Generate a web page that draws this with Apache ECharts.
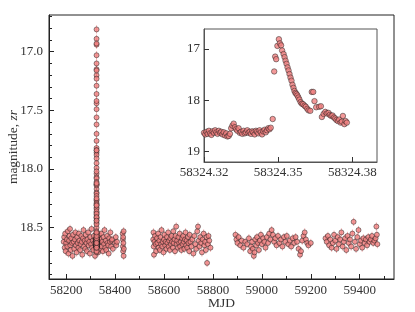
<!DOCTYPE html>
<html><head><meta charset="utf-8">
<script src="https://cdn.jsdelivr.net/npm/echarts@6/dist/echarts.min.js"></script>
<style>html,body{margin:0;padding:0;background:#fff}#c{width:415px;height:312px}</style>
</head><body><div id="c"></div>
<script>
// ---- main light curve: quiescent seasons [MJD, zr magnitude] ----
const season1 = [[58190,18.62],[58192,18.58],[58194,18.67],[58196,18.55],[58198,18.70],[58200,18.63],[58203,18.60],[58205,18.66],[58207,18.53],[58210,18.72],[58212,18.61],[58214,18.57],[58216,18.51],[58217,18.65],[58219,18.69],[58221,18.59],[58224,18.63],[58226,18.74],[58228,18.56],[58231,18.62],[58233,18.68],[58236,18.60],[58238,18.54],[58240,18.65],[58243,18.71],[58245,18.58],[58247,18.63],[58250,18.67],[58252,18.55],[58254,18.61],[58257,18.69],[58259,18.64],[58262,18.57],[58264,18.62],[58266,18.73],[58269,18.59],[58271,18.52],[58273,18.66],[58276,18.61],[58278,18.68],[58280,18.56],[58283,18.63],[58285,18.70],[58287,18.60],[58290,18.54],[58292,18.65],[58295,18.62],[58297,18.72],[58299,18.58],[58302,18.64],[58304,18.51],[58306,18.67],[58309,18.61],[58311,18.69],[58313,18.57],[58316,18.63],[58318,18.74],[58320,18.60],[58322,18.66],[58327,18.59],[58329,18.64],[58331,18.71],[58334,18.56],[58336,18.62],[58338,18.68],[58341,18.60],[58343,18.55],[58346,18.66],[58348,18.62],[58350,18.70],[58353,18.58],[58355,18.64],[58357,18.52],[58360,18.67],[58362,18.61],[58364,18.69],[58367,18.57],[58369,18.63],[58372,18.65],[58374,18.72],[58376,18.59],[58379,18.62],[58381,18.54],[58384,18.66],[58386,18.61],[58388,18.60],[58391,18.68],[58400,18.63],[58403,18.58],[58405,18.65],[58408,18.62],[58431,18.55],[58432,18.60],[58432,18.66],[58433,18.70],[58433,18.58],[58434,18.63],[58435,18.74],[58435,18.53],[58436,18.68]];
const season2 = [[58556,18.60],[58557,18.54],[58558,18.66],[58559,18.73],[58561,18.62],[58563,18.57],[58566,18.64],[58568,18.70],[58571,18.59],[58573,18.63],[58576,18.55],[58578,18.67],[58581,18.61],[58583,18.69],[58586,18.58],[58588,18.64],[58590,18.52],[58593,18.66],[58595,18.62],[58598,18.71],[58600,18.60],[58602,18.56],[58605,18.65],[58607,18.62],[58610,18.68],[58612,18.58],[58614,18.63],[58617,18.54],[58619,18.66],[58621,18.61],[58624,18.69],[58626,18.59],[58628,18.64],[58631,18.57],[58633,18.62],[58636,18.67],[58638,18.53],[58640,18.63],[58643,18.60],[58645,18.70],[58647,18.57],[58650,18.49],[58652,18.64],[58654,18.61],[58657,18.67],[58659,18.58],[58662,18.63],[58664,18.55],[58666,18.66],[58669,18.62],[58671,18.69],[58674,18.59],[58676,18.64],[58678,18.57],[58681,18.62],[58683,18.68],[58686,18.60],[58688,18.54],[58690,18.65],[58693,18.61],[58695,18.67],[58698,18.58],[58700,18.63],[58703,18.70],[58705,18.56],[58708,18.62],[58712,18.66],[58716,18.60],[58720,18.72],[58724,18.57],[58728,18.64],[58732,18.68],[58736,18.53],[58739,18.49],[58742,18.61],[58745,18.66],[58748,18.58],[58752,18.63],[58755,18.71],[58758,18.60],[58762,18.55],[58765,18.65],[58768,18.62],[58771,18.69],[58774,18.58],[58776,18.80],[58779,18.64],[58782,18.57],[58785,18.61],[58790,18.67]];
const season3 = [[58892,18.56],[58896,18.60],[58900,18.63],[58905,18.58],[58912,18.65],[58918,18.61],[58925,18.67],[58932,18.62],[58940,18.64],[58947,18.59],[58952,18.70],[58956,18.66],[58960,18.62],[58963,18.68],[58967,18.74],[58970,18.71],[58973,18.60],[58977,18.65],[58980,18.58],[58984,18.63],[58988,18.69],[58992,18.61],[58996,18.56],[59000,18.64],[59005,18.59],[59010,18.62],[59015,18.67],[59020,18.58],[59025,18.63],[59030,18.55],[59035,18.60],[59040,18.52],[59045,18.56],[59050,18.62],[59055,18.59],[59060,18.65],[59066,18.57],[59072,18.63],[59078,18.60],[59084,18.66],[59090,18.58],[59096,18.62],[59102,18.57],[59108,18.64],[59114,18.61],[59120,18.66],[59126,18.59],[59132,18.63],[59138,18.58],[59144,18.62],[59150,18.68],[59156,18.73],[59160,18.70],[59165,18.61],[59170,18.57],[59175,18.54],[59180,18.60],[59185,18.63],[59190,18.65],[59200,18.63]];
const season4 = [[59260,18.59],[59265,18.62],[59270,18.57],[59275,18.65],[59280,18.60],[59285,18.67],[59290,18.63],[59295,18.56],[59300,18.61],[59305,18.68],[59310,18.58],[59315,18.64],[59320,18.60],[59325,18.54],[59330,18.66],[59335,18.62],[59340,18.59],[59345,18.69],[59350,18.57],[59355,18.63],[59360,18.60],[59365,18.66],[59370,18.55],[59375,18.45],[59380,18.62],[59385,18.68],[59390,18.58],[59395,18.52],[59400,18.64],[59405,18.61],[59410,18.67],[59415,18.59],[59420,18.63],[59425,18.60],[59430,18.65],[59435,18.58],[59440,18.62],[59445,18.60],[59450,18.57],[59455,18.63],[59460,18.61],[59465,18.59],[59468,18.49],[59470,18.56],[59472,18.64]];

// ---- flare night (inset) [MJD, zr magnitude] ----
const flareNight = [[58324.3200,18.64],[58324.3205,18.67],[58324.3210,18.62],[58324.3215,18.66],[58324.3220,18.60],[58324.3225,18.65],[58324.3230,18.68],[58324.3235,18.61],[58324.3240,18.64],[58324.3245,18.59],[58324.3250,18.63],[58324.3255,18.66],[58324.3260,18.60],[58324.3265,18.64],[58324.3270,18.62],[58324.3275,18.67],[58324.3280,18.63],[58324.3285,18.69],[58324.3290,18.65],[58324.3295,18.71],[58324.3300,18.70],[58324.3305,18.66],[58324.3310,18.55],[58324.3315,18.50],[58324.3320,18.46],[58324.3325,18.53],[58324.3330,18.57],[58324.3335,18.60],[58324.3340,18.55],[58324.3345,18.64],[58324.3350,18.62],[58324.3355,18.66],[58324.3360,18.60],[58324.3365,18.65],[58324.3370,18.63],[58324.3375,18.59],[58324.3380,18.64],[58324.3385,18.62],[58324.3390,18.66],[58324.3395,18.61],[58324.3400,18.63],[58324.3405,18.67],[58324.3410,18.60],[58324.3415,18.62],[58324.3420,18.65],[58324.3425,18.59],[58324.3430,18.63],[58324.3435,18.67],[58324.3440,18.61],[58324.3445,18.58],[58324.3450,18.63],[58324.3455,18.59],[58324.3460,18.55],[58324.3465,18.57],[58324.3470,18.54],[58324.3478,18.37],
[58324.3484,17.44],[58324.3488,17.15],[58324.3492,17.20],[58324.3497,16.94],[58324.3503,16.81],[58324.3507,16.89],[58324.3512,16.93],[58324.3516,17.03],[58324.3522,17.10],[58324.3526,17.16],[58324.3530,17.23],[58324.3534,17.29],[58324.3538,17.36],[58324.3542,17.42],[58324.3546,17.49],[58324.3550,17.56],[58324.3554,17.62],[58324.3558,17.70],[58324.3562,17.76],[58324.3566,17.82],[58324.3570,17.86],[58324.3574,17.88],[58324.3578,17.91],[58324.3582,17.95],[58324.3586,17.99],[58324.3591,18.04],[58324.3596,18.07],[58324.3601,18.08],[58324.3607,18.11],[58324.3612,18.13],[58324.3618,18.17],[58324.3623,18.20],[58324.3630,18.21],[58324.3636,17.84],[58324.3642,17.84],[58324.3647,18.02],[58324.3654,18.14],[58324.3666,18.13],[58324.3673,18.12],[58324.3677,18.33],[58324.3684,18.27],[58324.3691,18.23],[58324.3697,18.26],[58324.3704,18.25],[58324.3709,18.29],[58324.3715,18.31],[58324.3720,18.30],[58324.3726,18.34],[58324.3731,18.36],[58324.3736,18.39],[58324.3742,18.41],[58324.3747,18.38],[58324.3753,18.44],[58324.3758,18.42],[58324.3762,18.31],[58324.3768,18.47],[58324.3773,18.41],[58324.3778,18.44]];

const magErr = 0.035; // typical photometric error (estimated)
const mainXTicks = [58200, 58400, 58600, 58800, 59000, 59200, 59400];
const mainXMinor = [58200, 58300, 58400, 58500, 58600, 58700, 58800, 58900, 59000, 59100, 59200, 59300, 59400, 59500];
const mainYTicks = [17.0, 17.5, 18.0, 18.5];
const mainYMinor = [16.7, 16.8, 16.9, 17.0, 17.1, 17.2, 17.3, 17.4, 17.5, 17.6, 17.7, 17.8, 17.9, 18.0, 18.1, 18.2, 18.3, 18.4, 18.5, 18.6, 18.7, 18.8, 18.9];
const insetXTicks = [58324.32, 58324.35, 58324.38];
const insetYTicks = [17, 18, 19];

const allMain = season1.concat(season2, season3, season4, flareNight);

const FONT = 'Liberation Serif';
const TXT = '#333';

const chart = echarts.init(document.getElementById('c'), null, {renderer: 'canvas'});
const tickStyle = {color: '#222', width: 1};
const lbl = (extra) => Object.assign({fontFamily: FONT, fontSize: 13, color: TXT}, extra);
chart.setOption({
  animation: false,
  grid: [
    {left: 49, top: 15, right: 21, bottom: 33, containLabel: false, outerBoundsMode: 'none',
     show: true, borderColor: '#222', borderWidth: 1, backgroundColor: '#fff'},
    {left: 204, top: 29, right: 38, bottom: 150, containLabel: false, outerBoundsMode: 'none',
     show: true, borderColor: '#555', borderWidth: 1, backgroundColor: '#fff'}
  ],
  xAxis: [
    {gridIndex: 0, type: 'value', position: 'bottom', min: 58130, max: 59540,
     name: 'MJD', nameLocation: 'middle', nameGap: 17, nameMoveOverlap: false,
     nameTextStyle: {fontFamily: FONT, fontSize: 13.5, color: TXT, verticalAlign: 'top'},
     axisLine: {show: true, lineStyle: {color: '#222'}},
     axisTick: {inside: true, length: 5, lineStyle: tickStyle, customValues: mainXTicks},
     axisLabel: lbl({margin: 5, customValues: mainXTicks, formatter: v => String(Math.round(v))}),
     splitLine: {show: false}},
    {gridIndex: 0, type: 'value', position: 'bottom', min: 58130, max: 59540,
     axisLine: {show: false}, axisTick: {inside: true, length: 3, lineStyle: tickStyle, customValues: mainXMinor},
     axisLabel: {show: false}, splitLine: {show: false}},
    {gridIndex: 1, type: 'value', position: 'bottom', min: 58324.32, max: 58324.39,
     axisLine: {show: true, lineStyle: {color: '#555'}},
     axisTick: {inside: true, length: 5, lineStyle: {color: '#333'}, customValues: insetXTicks},
     axisLabel: lbl({margin: 4, customValues: insetXTicks, formatter: v => v.toFixed(2)}),
     splitLine: {show: false}}
  ],
  yAxis: [
    {gridIndex: 0, type: 'value', position: 'left', inverse: true, min: 16.687, max: 18.937,
     name: '{n|magnitude, }{i|zr}', nameLocation: 'middle', nameGap: 29, nameMoveOverlap: false,
     nameTextStyle: {fontFamily: FONT, fontSize: 13.5, color: TXT,
       rich: {n: {fontFamily: FONT, fontSize: 13.5, color: TXT}, i: {fontFamily: FONT, fontSize: 13.5, color: TXT, fontStyle: 'italic'}}},
     axisLine: {show: true, lineStyle: {color: '#222'}},
     axisTick: {inside: true, length: 5, lineStyle: tickStyle, customValues: mainYTicks},
     axisLabel: lbl({margin: 6, customValues: mainYTicks, formatter: v => v.toFixed(1)}),
     splitLine: {show: false}},
    {gridIndex: 0, type: 'value', position: 'left', inverse: true, min: 16.687, max: 18.937,
     axisLine: {show: false}, axisTick: {inside: true, length: 3, lineStyle: tickStyle, customValues: mainYMinor},
     axisLabel: {show: false}, splitLine: {show: false}},
    {gridIndex: 1, type: 'value', position: 'left', inverse: true, min: 16.61, max: 19.21,
     axisLine: {show: true, lineStyle: {color: '#555'}},
     axisTick: {inside: true, length: 5, lineStyle: {color: '#333'}, customValues: insetYTicks},
     axisLabel: lbl({margin: 4, customValues: insetYTicks, formatter: v => String(Math.round(v))}),
     splitLine: {show: false}}
  ],
  series: [
    {type: 'custom', xAxisIndex: 0, yAxisIndex: 0, data: allMain, z: 2,
     renderItem: (params, api) => {
       const x = api.value(0), y = api.value(1);
       const p1 = api.coord([x, y - magErr]), p2 = api.coord([x, y + magErr]);
       return {type: 'line', shape: {x1: p1[0], y1: p1[1], x2: p2[0], y2: p2[1]},
         style: {stroke: 'rgba(235,110,110,0.55)', lineWidth: 1}};
     }},
    {type: 'scatter', xAxisIndex: 0, yAxisIndex: 0, data: allMain, z: 3,
     symbol: 'circle', symbolSize: 5,
     itemStyle: {color: '#f08080', borderColor: '#1a1a1a', borderWidth: 0.6}},
    {type: 'scatter', xAxisIndex: 2, yAxisIndex: 2, data: flareNight, z: 3,
     symbol: 'circle', symbolSize: 5.5,
     itemStyle: {color: '#f08080', borderColor: '#1a1a1a', borderWidth: 0.6}}
  ]
});
</script></body></html>
